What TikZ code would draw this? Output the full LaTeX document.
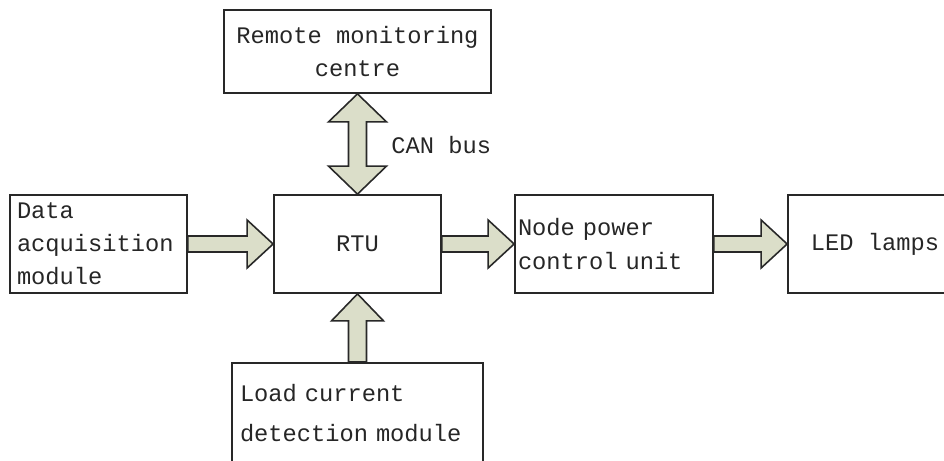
\documentclass[tikz,border=0pt]{standalone}
\usepackage{fontspec}
\setmonofont{Liberation Mono}
\usetikzlibrary{calc}
\definecolor{arrowfill}{RGB}{219,222,201}
\definecolor{boxline}{RGB}{40,40,40}
\newcommand{\blockfont}{\ttfamily\fontsize{13.5}{18.8}\selectfont\spaceskip=0.6em\relax}

\begin{document}
\begin{tikzpicture}[
	block/.style={draw=boxline, line width=1pt, minimum height=1.96cm, inner sep=0pt,
		font=\blockfont, text=black!85},
	fatarrow/.style={draw=boxline, line width=0.9pt, fill=arrowfill, line join=miter}]
\useasboundingbox (0,0) rectangle (18.88,9.2);

\node[block, minimum width=5.34cm, minimum height=1.66cm, align=center] (remote) at (7.15,8.17) {Remote monitoring\\centre};
\node[block, minimum width=3.34cm] (rtu) at (7.15,4.32) {RTU};
\node[block, text width=3.26cm, inner xsep=0.14cm, align=left] (data) at (1.97,4.32) {Data\\acquisition\\module};
\node[block, text width=3.84cm, inner xsep=0.06cm, align=left] (power) at (12.28,4.32) {Node power\\control unit};
\node[block, minimum width=3.48cm] (led) at (17.5,4.32) {LED lamps};
\node[block, minimum height=0pt, text width=4.7cm, inner xsep=0.16cm, inner ysep=0.42cm, align=left, anchor=north] (load) at (7.15,1.96) {Load current\\[0.14cm]detection module};
\node[font=\blockfont, text=black!85, anchor=west, inner sep=0pt] (can) at (7.82,6.3) {CAN bus};

\draw[fatarrow] (remote.south) -- ++(0.58,-0.56) -- ++(-0.40,0) -- ($(rtu.north)+(0.18,0.56)$) -- ++(0.40,0) -- (rtu.north) -- ++(-0.58,0.56) -- ++(0.40,0) -- ($(remote.south)+(-0.18,-0.56)$) -- ++(-0.40,0) -- cycle;
\draw[fatarrow] (rtu.west) -- ++(-0.52,0.48) -- ++(0,-0.32) -- ($(data.east)+(0,0.16)$) -- ++(0,-0.32) -- ($(rtu.west)+(-0.52,-0.16)$) -- ++(0,-0.32) -- cycle;
\draw[fatarrow] (power.west) -- ++(-0.52,0.48) -- ++(0,-0.32) -- ($(rtu.east)+(0,0.16)$) -- ++(0,-0.32) -- ($(power.west)+(-0.52,-0.16)$) -- ++(0,-0.32) -- cycle;
\draw[fatarrow] (led.west) -- ++(-0.52,0.48) -- ++(0,-0.32) -- ($(power.east)+(0,0.16)$) -- ++(0,-0.32) -- ($(led.west)+(-0.52,-0.16)$) -- ++(0,-0.32) -- cycle;
\draw[fatarrow] (rtu.south) -- ++(0.52,-0.54) -- ++(-0.34,0) -- ($(load.north)+(0.18,0)$) -- ++(-0.36,0) -- ($(rtu.south)+(-0.18,-0.54)$) -- ++(-0.34,0) -- cycle;

\end{tikzpicture}
\end{document}
